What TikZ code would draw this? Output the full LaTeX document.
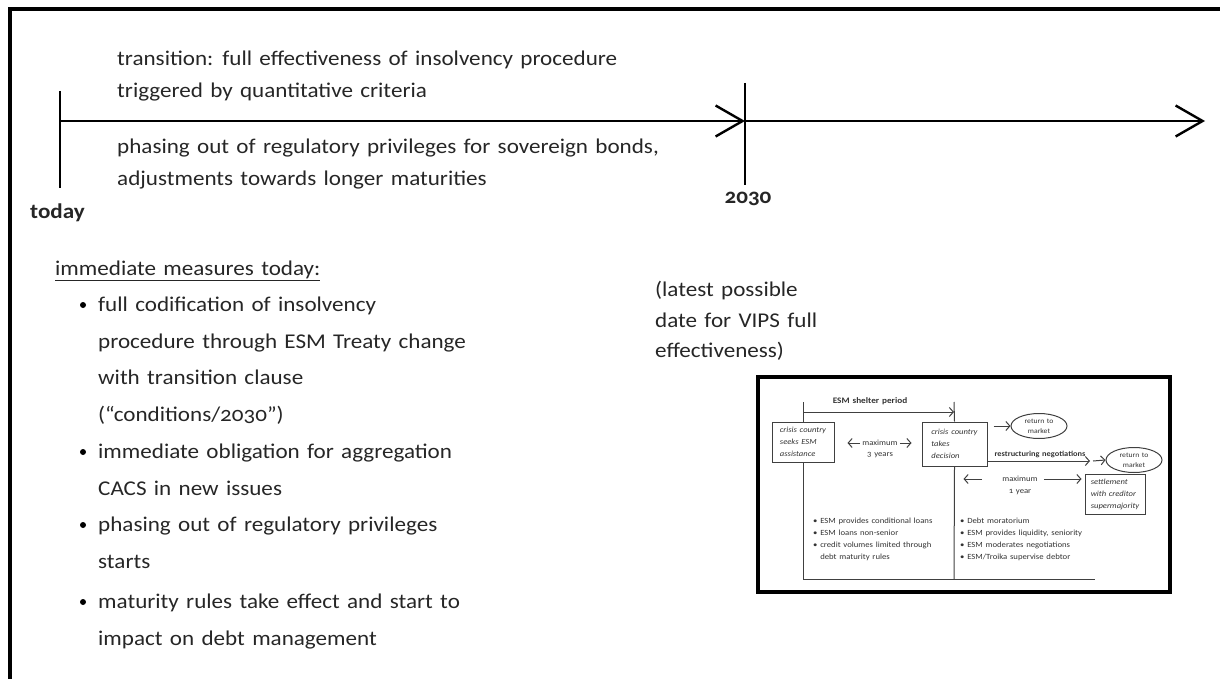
\documentclass[tikz,border=0pt]{standalone}
\usepackage{fontspec}
\setmainfont[Numbers=OldStyle, FakeStretch=1.1, WordSpace=1.4]{Carlito}
\usetikzlibrary{positioning, arrows.meta, shapes.geometric}
\tikzset{
    frame/.style = {draw, line width = 4.5pt},
    time line/.style = {draw, line width = 2.4pt},
    big tip/.style = {-{Straight Barb[length = 27pt, width = 31pt, line width = 2.4pt]}},
    main text/.style = {text = black!85, font = \fontsize{21}{32}\selectfont, align = left, anchor = north west, inner sep = 0pt},
    list text/.style = {main text, font = \fontsize{21}{36.5}\selectfont},
    list dot/.style = {circle, fill, inner sep = 0pt, minimum size = 6pt},
}
\tikzset{
    inset line/.style = {draw = black!75, line width = 1pt},
    inset tip/.style = {-{Straight Barb[length = 4pt, width = 9pt, line width = 1pt]}},
    inset text/.style = {text = black!80, font = \fontsize{7.9}{12}\selectfont, inner sep = 0pt},
    stage box/.style = {inset line, inset text, align = left, font = \fontsize{7.8}{12}\selectfont\itshape,
        minimum width = 62pt, minimum height = 40pt, inner sep = 3pt},
    market/.style = {ellipse, inset line, inset text, align = center, font = \fontsize{7}{10}\selectfont,
        minimum width = 56pt, minimum height = 25pt},
}
\begin{document}
\begin{tikzpicture}[x = 1pt, y = -1pt]
    \useasboundingbox (0, 0) rectangle (1220, 679);
    \draw[frame] (10, 679) -- (10, 9) -- (1220, 9);

    \coordinate (today) at (60, 121);
    \coordinate (today top) at (60, 91);
    \coordinate (today bottom) at (60, 188);
    \coordinate (y2030) at (745, 121);
    \coordinate (y2030 top) at (745, 83);
    \coordinate (y2030 bottom) at (745, 185);
    \coordinate (future) at (1205, 121);

    \draw[time line] (today top) -- (today bottom);
    \draw[time line] (y2030 top) -- (y2030 bottom);
    \draw[time line, big tip] (today) -- (y2030);
    \draw[time line, big tip] (y2030) -- (future);

    \node[main text] (transition) at (117, 51) {transition: full effectiveness of insolvency procedure\\triggered by quantitative criteria};
    \node[main text] (phasing) at (117, 139) {phasing out of regulatory privileges for sovereign bonds,\\adjustments towards longer maturities};
    \node[main text, font = \fontsize{21}{32}\selectfont\bfseries] (today label) at (30, 204) {today};
    \node[text = black!85, font = \fontsize{21}{22}\selectfont\bfseries] (year label) at (748, 199) {2030};
    \node[main text, font = \fontsize{21}{30.5}\selectfont] (latest) at (655, 281) {(latest possible\\date for VIPS full\\effectiveness)};

    \node[main text] (measures) at (55, 261) {\underline{immediate measures today:}};
    \node[list text] (codification) at (98, 297) {full codification of insolvency\\procedure through ESM Treaty change\\with transition clause\\(“conditions/2030”)};
    \node[list text] (obligation) at (98, 444) {immediate obligation for aggregation\\CACS in new issues};
    \node[list text] (privileges) at (98, 517) {phasing out of regulatory privileges\\starts};
    \node[list text] (maturity) at (98, 594) {maturity rules take effect and start to\\impact on debt management};
    \node[list dot] (dot1) at (83, 305) {};
    \node[list dot] (dot2) at (83, 452) {};
    \node[list dot] (dot3) at (83, 525) {};
    \node[list dot] (dot4) at (83, 602) {};

    % inset
    \draw[frame, line width = 4pt] (758, 377) rectangle (1170, 592);

    \coordinate (seek top) at (803, 402);
    \coordinate (seek bottom) at (803, 579);
    \coordinate (decide top) at (954, 402);
    \coordinate (decide bottom) at (954, 579);
    \coordinate (shelter start) at (803, 412);
    \coordinate (shelter end) at (954, 412);
    \coordinate (talks start) at (987, 461);
    \coordinate (talks end) at (1090, 461);
    \coordinate (inset end) at (1095, 579);

    \node[stage box] (seek) at (803, 442) {crisis country\\seeks ESM\\assistance};
    \node[stage box, minimum width = 65pt, minimum height = 44pt] (decide) at (954.5, 444) {crisis country\\takes\\decision};
    \node[stage box, minimum width = 60pt, minimum height = 40pt] (settle) at (1115, 494) {settlement\\with creditor\\supermajority};
    \node[market] (market1) at (1039, 426) {return to\\market};
    \node[market] (market2) at (1134, 460) {return to\\market};

    \node[inset text, font = \fontsize{8.4}{10}\selectfont\bfseries] (shelter) at (870, 401) {ESM shelter period};
    \node[inset text, font = \fontsize{7.6}{10}\selectfont\bfseries] (talks) at (1040, 454) {restructuring negotiations};
    \node[inset text] (max1) at (880, 443) {maximum};
    \node[inset text] (years) at (880, 455) {3 years};
    \node[inset text] (max2) at (1020, 479) {maximum};
    \node[inset text] (year) at (1020, 492) {1 year};

    \draw[inset line] (seek top) -- (seek.north);
    \draw[inset line] (seek.south) -- (seek bottom);
    \draw[inset line] (decide top) -- (decide.north);
    \draw[inset line] (decide.south) -- (decide bottom);
    \draw[inset line] (seek bottom) -- (inset end);
    \draw[inset line, inset tip] (shelter start) -- (shelter end);
    \draw[inset line, inset tip] (talks start) -- (talks end);
    \draw[inset line, inset tip, shorten < = 2pt, shorten > = 13pt] (max1.west) -- (max1.west -| seek.east);
    \draw[inset line, inset tip, shorten < = 2pt, shorten > = 10pt] (max1.east) -- (max1.east -| decide.west);
    \draw[inset line, inset tip, shorten < = 20pt, shorten > = 9pt] (max2.west) -- (max2.west -| decide.south);
    \draw[inset line, inset tip, shorten < = 6pt, shorten > = 3pt] (max2.east) -- (max2.east -| settle.west);
    \draw[inset line, inset tip] (decide.east |- market1) ++(6, 0) -- (market1.west);
    \draw[inset line, inset tip] (talks end) ++(3, 0) -- (market2.west);

    \node[inset text, align = left, anchor = north west] (shelter list) at (813, 518)
        {\textbullet\ ESM provides conditional loans\\\textbullet\ ESM loans non-senior\\\textbullet\ credit volumes limited through\\\phantom{\textbullet\ }debt maturity rules};
    \node[inset text, align = left, anchor = north west] (talks list) at (960, 518)
        {\textbullet\ Debt moratorium\\\textbullet\ ESM provides liquidity, seniority\\\textbullet\ ESM moderates negotiations\\\textbullet\ ESM/Troika supervise debtor};
\end{tikzpicture}
\end{document}
